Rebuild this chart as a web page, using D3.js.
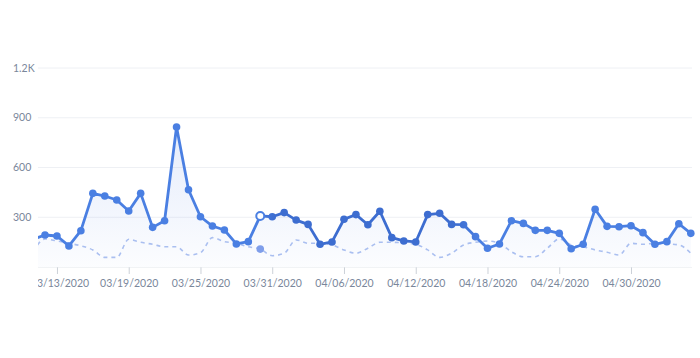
<!DOCTYPE html>
<html><head><meta charset="utf-8">
<script src="https://cdn.jsdelivr.net/npm/d3@7/dist/d3.min.js"></script>
<style>
html,body{margin:0;padding:0;background:#fff;}
svg{display:block;font-family:Lato,"Open Sans",sans-serif;}
</style></head>
<body><svg id="c" width="700" height="358"></svg>
<script>
const startDate = "2020-03-11";
const mainValues = [167,193,187,127,219,444,428,404,338,444,239,279,844,466,303,247,223,139,153,308,
  303,328,283,257,137,151,288,316,255,336,177,157,151,316,324,257,255,183,113,139,
  279,263,221,221,203,110,137,348,245,243,249,207,137,153,261,203];
const prevValues = [92,169,157,143,128,103,58,58,167,149,137,122,122,72,86,177,153,143,122,108,
  68,83,163,143,143,133,103,83,113,149,149,145,137,103,58,83,133,149,157,143,
  92,62,62,113,169,133,122,103,89,72,143,137,143,139,133,83];
const yTicks = [300,600,900,1200];
const xTickDates = ["2020-03-13","2020-03-19","2020-03-25","2020-03-31","2020-04-06","2020-04-12","2020-04-18","2020-04-24","2020-04-30"];
const hoverDate = "2020-03-30";

(function(){
const parse = d3.timeParse("%Y-%m-%d");
const day0 = parse(startDate);
const dates = mainValues.map((_, i) => d3.timeDay.offset(day0, i));
const mainData = mainValues.map((v, i) => ({d: dates[i], v}));
const prevData = prevValues.map((v, i) => ({d: dates[i], v}));

const svg = d3.select("#c");
const pL = 38, pR = 692, pT = 68, pB = 267;
const x = d3.scaleTime().domain([parse("2020-03-12"), parse("2020-05-05")]).range([45, 690.8]);
const y = d3.scaleLinear().domain([0, 1200]).range([pB, pT]);

const defs = svg.append("defs");
defs.append("clipPath").attr("id", "clip").append("rect")
  .attr("x", pL).attr("y", 0).attr("width", pR - pL + 8).attr("height", 358);
defs.append("clipPath").attr("id", "clipx").append("rect")
  .attr("x", pL).attr("y", 0).attr("width", pR - pL + 10).attr("height", 358);
const grad = defs.append("linearGradient").attr("id", "ag").attr("x1", 0).attr("x2", 0).attr("y1", 0).attr("y2", 1);
grad.append("stop").attr("offset", "0%").attr("stop-color", "#5b86e5").attr("stop-opacity", 0.16);
grad.append("stop").attr("offset", "100%").attr("stop-color", "#5b86e5").attr("stop-opacity", 0.02);
const lg = defs.append("linearGradient").attr("id", "lg").attr("gradientUnits", "userSpaceOnUse")
  .attr("x1", 0).attr("x2", 700).attr("y1", 0).attr("y2", 0);
[[0, "#4a7fe2"], [255/700, "#4a7fe2"], [275/700, "#3d6dd0"], [455/700, "#3d6dd0"], [480/700, "#4a7fe2"], [1, "#4a7fe2"]]
  .forEach(([o, c]) => lg.append("stop").attr("offset", o).attr("stop-color", c));

const grid = svg.append("g");
grid.selectAll("line").data(yTicks).join("line")
  .attr("x1", pL).attr("x2", pR).attr("y1", d => y(d)).attr("y2", d => y(d))
  .attr("stroke", "#eef0f4").attr("stroke-width", 1);
grid.selectAll("text").data(yTicks).join("text")
  .attr("x", 13).attr("y", d => y(d)).attr("dy", "0.35em")
  .attr("font-size", 10.5).attr("fill", "#7a879b")
  .text(d => d >= 1000 ? d3.format(".1f")(d / 1000) + "K" : d);

const xAxis = d3.axisBottom(x).tickValues(xTickDates.map(parse))
  .tickFormat(d3.timeFormat("%m/%d/%Y")).tickSize(7).tickPadding(6);
const ax = svg.append("g").attr("transform", `translate(0,${pB})`).attr("clip-path", "url(#clipx)").call(xAxis);
ax.select(".domain").remove();
ax.append("line").attr("x1", pL).attr("x2", pR).attr("stroke", "#e4e7ec");
ax.selectAll(".tick line").attr("stroke", "#ccd1d8");
ax.selectAll(".tick text").attr("fill", "#7a879b").attr("font-size", 10.5)
  .attr("font-family", "Lato,'Open Sans',sans-serif")
  .attr("dx", (d, i) => i === 0 ? 2.5 : 0);

const plot = svg.append("g").attr("clip-path", "url(#clip)");
const area = d3.area().x(d => x(d.d)).y0(pB).y1(d => y(d.v));
const line = d3.line().x(d => x(d.d)).y(d => y(d.v));

plot.append("path").datum(mainData).attr("d", area).attr("fill", "url(#ag)");
plot.append("path").datum(prevData).attr("d", d3.line().x(d => x(d.d)).y(d => y(d.v)).curve(d3.curveMonotoneX))
  .attr("fill", "none").attr("stroke", "#aabff0").attr("stroke-width", 1.6).attr("stroke-dasharray", "4,4");
plot.append("path").datum(mainData).attr("d", line)
  .attr("fill", "none").attr("stroke", "url(#lg)").attr("stroke-width", 2.8).attr("stroke-linejoin", "round");
const hd = parse(hoverDate);
plot.selectAll("circle.m").data(mainData.filter(d => +d.d !== +hd)).join("circle")
  .attr("class", "m").attr("cx", d => x(d.d)).attr("cy", d => y(d.v)).attr("r", 3.8).attr("fill", "url(#lg)");
const hp = prevData.find(d => +d.d === +hd);
plot.append("circle").attr("cx", x(hp.d)).attr("cy", y(hp.v)).attr("r", 3.8).attr("fill", "#7f9eea");
const hm = mainData.find(d => +d.d === +hd);
plot.append("circle").attr("cx", x(hm.d)).attr("cy", y(hm.v)).attr("r", 4).attr("fill", "#fff")
  .attr("stroke", "#4a7fe2").attr("stroke-width", 2);
})();
</script></body></html>
